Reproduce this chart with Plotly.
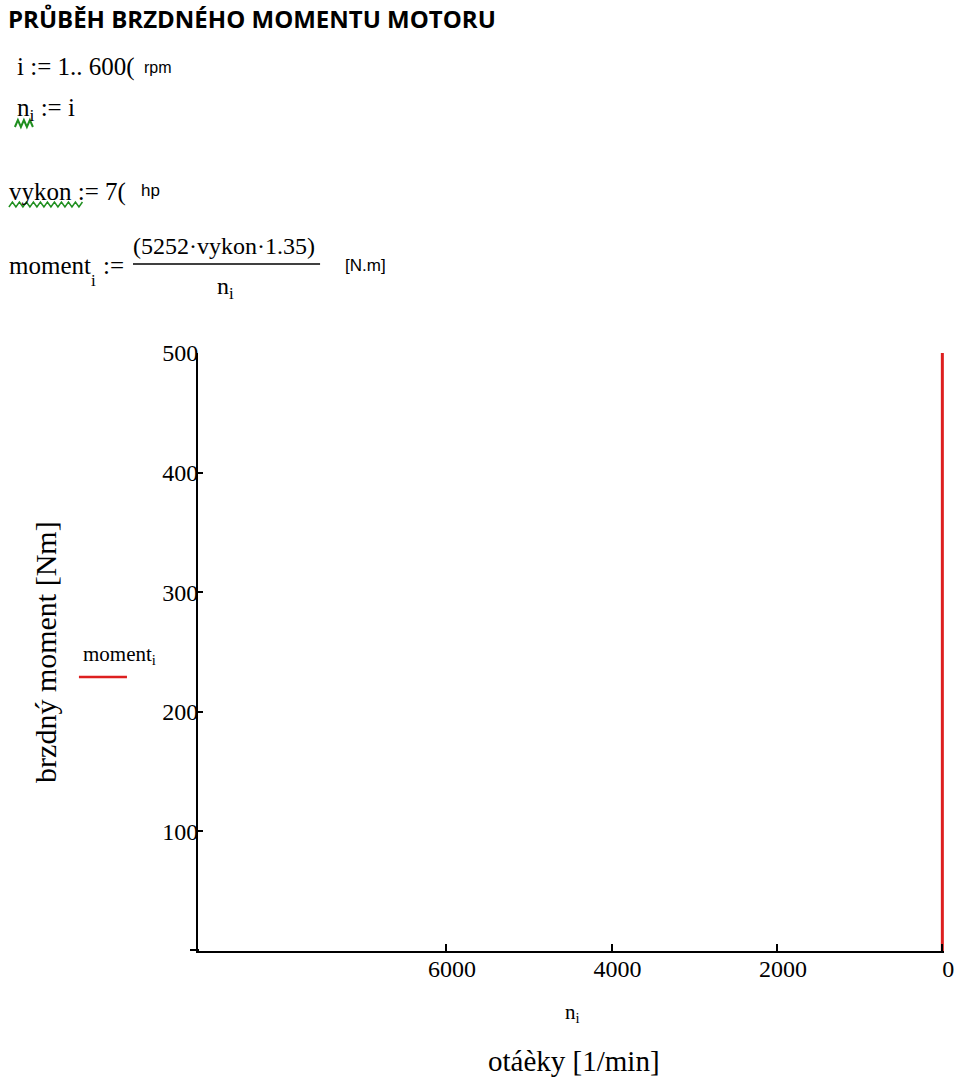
import plotly.graph_objects as go

# ---- data ----
otacky = [0, 0]          # n_i [1/min] of the visible red trace
moment = [0, 500]        # moment_i [Nm] (trace runs full height, clipped at 500)
x_ticks = [6000, 4000, 2000, 0]
y_ticks = [100, 200, 300, 400, 500]
x_range = [9000, -20]
y_range = [0, 500]

OFF = 0                    # page body margin (removed by post_script)
W, H = 960 - OFF, 1082 - OFF
L, R, T, B = 198, 943.6, 353, 951  # plot area in page px

def px(x):
    return (x - L) / (R - L)

def py(y):
    return (B - y) / (B - T)

SERIF = "Liberation Serif"
SANS = "Liberation Sans"

fig = go.Figure()
fig.add_trace(go.Scatter(x=otacky, y=moment, mode="lines",
                         line=dict(color="#dd1f1f", width=3),
                         showlegend=False, cliponaxis=False))

ann = []
def text(x, y, s, size, family=SERIF, color="black", xanchor="left", angle=0, yanchor="middle"):
    ann.append(dict(x=px(x), y=py(y), xref="paper", yref="paper", text=s,
                    showarrow=False, xanchor=xanchor, yanchor=yanchor, textangle=angle,
                    font=dict(family=family, size=size, color=color)))

# title
text(6, 18, "<b>PRŮBĚH BRZDNÉHO MOMENTU MOTORU</b>", 24, family="Open Sans")
# Mathcad worksheet text
text(15, 67, "i := 1.. 600(", 25)
text(142, 67, "rpm", 16, family=SANS)
text(15, 109, "n<sub>i</sub> := i", 25)
text(7, 192, "vykon := 7(", 25)
text(139, 191, "hp", 17, family=SANS)
text(7, 265, "moment", 25)
text(89, 280, "i", 17)
text(101, 265, ":=", 25)
text(131, 246, "(5252·vykon·1.35)", 24)
text(215, 288, "n<sub>i</sub>", 24)
text(343, 265, "[N.m]", 17, family=SANS)

# axis labels and legend
text(45, 652, "brzdný moment [Nm]", 30, xanchor="center", angle=-90)
text(81, 655, "moment<sub>i</sub>", 21)
text(572, 1013, "n<sub>i</sub>", 21, xanchor="center")
text(574, 1061, "otáèky [1/min]", 29, xanchor="center")

def zigzag(x0, x1, ytop, ybot, step):
    pts = []
    x = x0
    up = False
    while x <= x1:
        pts.append((px(x), py(ytop if up else ybot)))
        up = not up
        x += step / 2
    return "M " + " L ".join(f"{a:.5f},{b:.5f}" for a, b in pts)

shapes = [
    dict(type="line", xref="paper", yref="paper", x0=px(133), x1=px(320), y0=py(264), y1=py(264),
         line=dict(color="black", width=1.5)),
    dict(type="line", xref="paper", yref="paper", x0=px(79), x1=px(127), y0=py(677), y1=py(677),
         line=dict(color="#dd1f1f", width=2.5)),
    dict(type="line", xref="paper", yref="paper", x0=px(190), x1=px(199), y0=py(950), y1=py(950),
         line=dict(color="black", width=2)),
    dict(type="path", xref="paper", yref="paper", path=zigzag(15, 35, 120, 127, 6),
         line=dict(color="#1f8f1f", width=2)),
    dict(type="path", xref="paper", yref="paper", path=zigzag(9, 83, 202, 207, 7),
         line=dict(color="#1f8f1f", width=1.5)),
]

fig.update_layout(
    width=W, height=H,
    margin=dict(l=L - OFF, r=W - (R - OFF), t=T - OFF, b=H - (B - OFF), autoexpand=False),
    paper_bgcolor="white", plot_bgcolor="white",
    annotations=ann, shapes=shapes,
    xaxis=dict(range=x_range, tickvals=x_ticks, ticktext=[str(v) for v in x_ticks],
               automargin=False,
               showgrid=False, zeroline=False, showline=True, linecolor="black", linewidth=2,
               ticks="inside", ticklen=7, tickwidth=2, tickcolor="black",
               tickfont=dict(family=SERIF, size=24, color="black"),
               ticklabelstandoff=-5, ticklabelshift=-6),
    yaxis=dict(range=y_range, tickvals=y_ticks, ticktext=[str(v) for v in y_ticks],
               automargin=False,
               showgrid=False, zeroline=False, showline=True, linecolor="black", linewidth=2,
               ticks="inside", ticklen=5, tickwidth=2, tickcolor="black",
               tickfont=dict(family=SERIF, size=24, color="black"), ticklabelstandoff=-7),
    showlegend=False,
)

fig.write_html("out.html", config={"displayModeBar": False},
               post_script="document.body.style.margin='0';document.body.style.overflow='hidden';")
